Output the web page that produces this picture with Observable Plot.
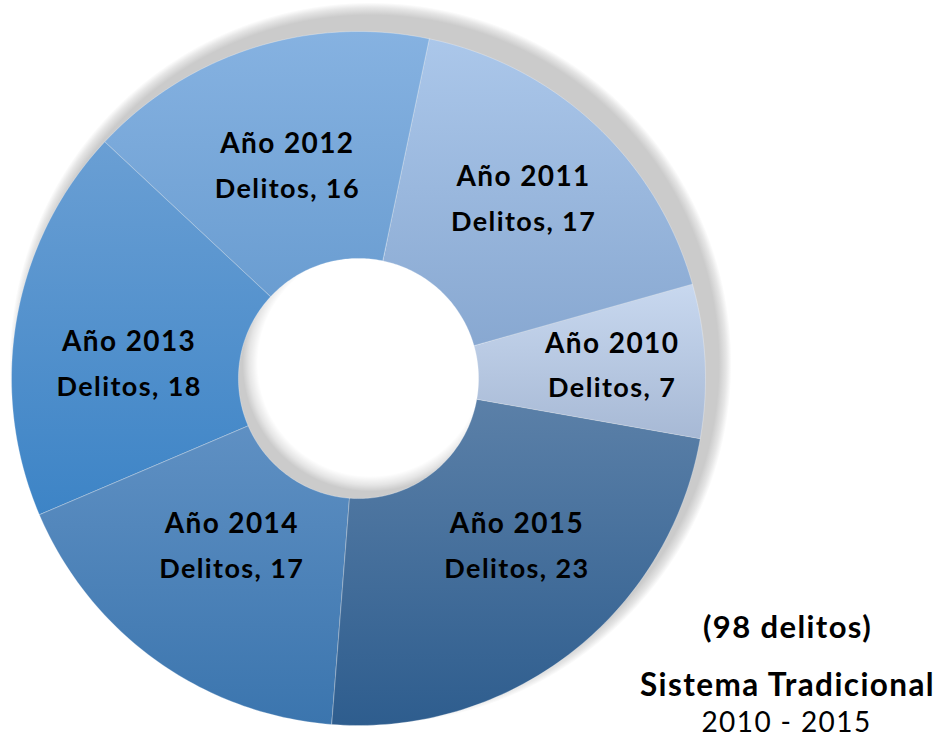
<!DOCTYPE html>
<html>
<head>
<meta charset="utf-8">
<script src="https://cdn.jsdelivr.net/npm/d3@7"></script>
<script src="https://cdn.jsdelivr.net/npm/@observablehq/plot@0.6"></script>
<style>
  html, body { margin: 0; padding: 0; background: #fff; }
  #chart svg { display: block; }
</style>
</head>
<body>
<div id="chart"></div>
<script>
// ---- data ----
const years = ["2010", "2011", "2012", "2013", "2014", "2015"];
const delitos = [7, 17, 16, 18, 17, 23];
const labelPrefix = "Año";
const valuePrefix = "Delitos";
const totalLabel = "(98 delitos)";
const titleLabel = "Sistema Tradicional";
const periodLabel = "2010 - 2015";

// ---- styles (gradient top / bottom per year) ----
const topColors    = ["#c8d8ef", "#abc7ea", "#86b2e1", "#6a9fd4", "#5f90c3", "#5b80a8"];
const bottomColors = ["#a7b9d5", "#88a8d1", "#6a9dd1", "#3d84c6", "#3b75ae", "#2e5d8e"];
// manual label nudges (px), like dragged labels in the original
const labelNudge = {"2010": [18, 0], "2011": [4, -6], "2012": [0, 14], "2013": [3, 28], "2014": [11, -23], "2015": [14, -18]};

// ---- geometry (unit circle) ----
const R_IN = 0.346;
const START = 100 * Math.PI / 180;
const order = [5, 4, 3, 2, 1, 0]; // clockwise from start: 2015 ... 2010
const pie = d3.pie().sort(null).value(i => delitos[i]).startAngle(START).endAngle(START + 2 * Math.PI);
const arcs = pie(order);

function slicePoints(a0, a1, rOut, rIn) {
  const pts = [];
  const n = Math.max(8, Math.ceil((a1 - a0) / (Math.PI / 180)));
  for (let k = 0; k <= n; k++) {
    const a = a0 + (a1 - a0) * k / n;
    pts.push({x: rOut * Math.sin(a), y: rOut * Math.cos(a)});
  }
  for (let k = n; k >= 0; k--) {
    const a = a0 + (a1 - a0) * k / n;
    pts.push({x: rIn * Math.sin(a), y: rIn * Math.cos(a)});
  }
  return pts;
}

const sliceMarks = arcs.map(arc => {
  const i = arc.data;
  return Plot.line(slicePoints(arc.startAngle, arc.endAngle, 1, R_IN), {
    x: "x", y: "y", curve: "linear-closed",
    fill: `url(#grad${i})`, stroke: "white", strokeOpacity: 0.35, strokeWidth: 0.8
  });
});

const R_LAB = 0.68;
const font = "Lato, 'Open Sans', sans-serif";
const labelMarks = arcs.flatMap(arc => {
  const i = arc.data;
  const a = (arc.startAngle + arc.endAngle) / 2;
  const d = [{x: R_LAB * Math.sin(a), y: R_LAB * Math.cos(a),
              year: `${labelPrefix} ${years[i]}`, value: `${valuePrefix}, ${delitos[i]}`}];
  const [nx, ny] = labelNudge[years[i]];
  return [
    Plot.text(d, {x: "x", y: "y", text: "year", dx: nx, dy: ny - 23, fontSize: 28, fontWeight: 700, fill: "black", fontFamily: font}),
    Plot.text(d, {x: "x", y: "y", text: "value", dx: nx, dy: ny + 22, fontSize: 27, fontWeight: 700, fill: "black", fontFamily: font})
  ];
});

const center = [{x: 0, y: 0}];

const plot = Plot.plot({
  width: 943,
  height: 743,
  margin: 0,
  x: {domain: [-1, 1], range: [11, 705], axis: null},
  y: {domain: [-1, 1], range: [725, 31], axis: null},
  style: {fontFamily: font, background: "white", letterSpacing: "1.4px"},
  marks: [
    // soft drop shadow of the ring (offset up-right)
    Plot.dot(center, {x: "x", y: "y", r: 361, fill: "url(#shadowOuter)", stroke: "none", dx: 12, dy: -15}),
    Plot.dot(center, {x: "x", y: "y", r: 128, fill: "url(#shadowInner)", stroke: "none", dx: 12, dy: -15}),
    ...sliceMarks,
    ...labelMarks,
    Plot.text([totalLabel], {frameAnchor: "bottom-right", text: d => d, dx: -156, dy: -106, fontSize: 31, fontWeight: 700, fill: "black", textAnchor: "middle", fontFamily: font}),
    Plot.text([titleLabel], {frameAnchor: "bottom-right", text: d => d, dx: -156, dy: -48, fontSize: 31.5, fontWeight: 700, fill: "black", textAnchor: "middle", fontFamily: font}),
    Plot.text([periodLabel], {frameAnchor: "bottom-right", text: d => d, dx: -157, dy: -12, fontSize: 28, fontWeight: 400, fill: "black", textAnchor: "middle", fontFamily: font})
  ]
});

// gradient defs
const ns = "http://www.w3.org/2000/svg";
const defs = document.createElementNS(ns, "defs");
function addGradient(type, id, attrs, stops) {
  const g = document.createElementNS(ns, type);
  g.setAttribute("id", id);
  for (const [k, v] of Object.entries(attrs)) g.setAttribute(k, v);
  stops.forEach(([o, c, op]) => {
    const s = document.createElementNS(ns, "stop");
    s.setAttribute("offset", o); s.setAttribute("stop-color", c);
    if (op !== undefined) s.setAttribute("stop-opacity", op);
    g.appendChild(s);
  });
  defs.appendChild(g);
}
years.forEach((y, i) => {
  addGradient("linearGradient", `grad${i}`, {x1: 0, y1: 0, x2: 0, y2: 1},
    [[0, topColors[i]], [1, bottomColors[i]]]);
});
addGradient("radialGradient", "shadowOuter", {cx: 0.5, cy: 0.5, r: 0.5},
  [[0, "#cbcbcb", 1], [0.965, "#cbcbcb", 1], [0.985, "#cbcbcb", 0.5], [1, "#cbcbcb", 0]]);
addGradient("radialGradient", "shadowInner", {cx: 0.5, cy: 0.5, r: 0.5},
  [[0, "#ffffff", 1], [0.88, "#ffffff", 1], [0.95, "#ffffff", 0.5], [1, "#ffffff", 0]]);
plot.insertBefore(defs, plot.firstChild);

document.getElementById("chart").appendChild(plot);
</script>
</body>
</html>
